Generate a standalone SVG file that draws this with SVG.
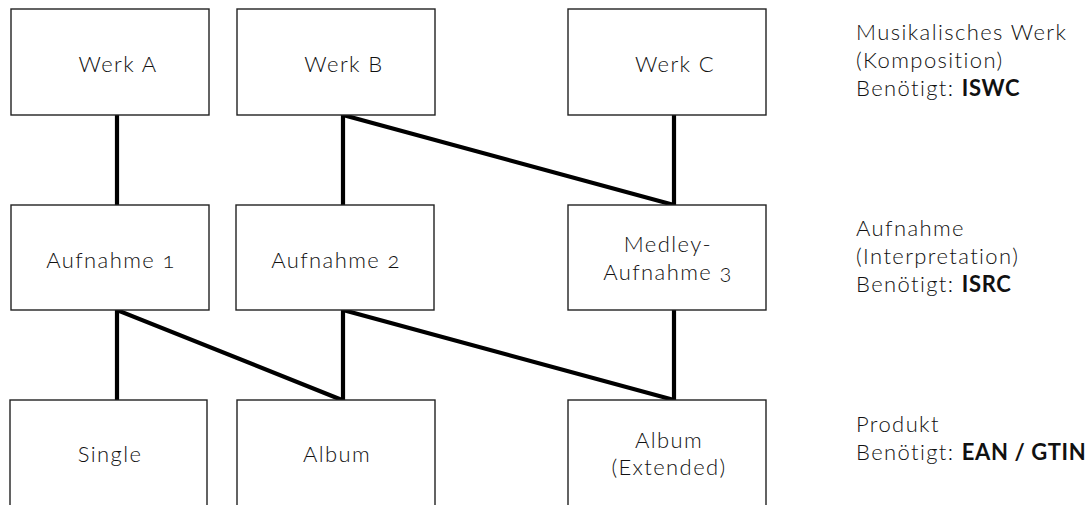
<svg xmlns="http://www.w3.org/2000/svg" width="1092" height="505" viewBox="0 0 1092 505">
<style>
.box{fill:#fff;stroke:#222;stroke-width:1.4}
.t{font-family:Lato,"Open Sans","Liberation Sans",sans-serif;font-size:22px;font-weight:300;letter-spacing:1.4px;fill:#111;font-variant-numeric:oldstyle-nums}
.c{text-anchor:middle}
.b{font-weight:700;fill:#111;letter-spacing:0.6px}
.con{fill:none;stroke:#000;stroke-width:4.2;stroke-linejoin:miter;stroke-miterlimit:10}
</style>
<rect width="1092" height="505" fill="#fff"/>
<g id="connectors">
<path class="con" d="M117,115 L117,205"/>
<path class="con" d="M343,205 L343,115 L674,205"/>
<path class="con" d="M674,115 L674,205"/>
<path class="con" d="M117,400 L117,310 L342,400"/>
<path class="con" d="M343,400 L343,310 L674,400"/>
<path class="con" d="M674,310 L674,400"/>
</g>
<g id="werkA"><rect class="box" x="11" y="9" width="198" height="106"/><text class="t c" x="118" y="72">Werk A</text></g>
<g id="werkB"><rect class="box" x="237" y="9" width="198" height="106"/><text class="t c" x="344" y="72">Werk B</text></g>
<g id="werkC"><rect class="box" x="568" y="9" width="198" height="106"/><text class="t c" x="675" y="72">Werk C</text></g>
<g id="aufnahme1"><rect class="box" x="11" y="205" width="198" height="105"/><text class="t c" x="111" y="268">Aufnahme 1</text></g>
<g id="aufnahme2"><rect class="box" x="236" y="205" width="198" height="105"/><text class="t c" x="336" y="268">Aufnahme 2</text></g>
<g id="aufnahme3"><rect class="box" x="568" y="205" width="198" height="105"/><text class="t c" x="668" y="252">Medley-</text><text class="t c" x="668" y="280">Aufnahme 3</text></g>
<g id="single"><rect class="box" x="10" y="400" width="197" height="108"/><text class="t c" x="110" y="462">Single</text></g>
<g id="album"><rect class="box" x="237" y="400" width="198" height="108"/><text class="t c" x="337" y="462">Album</text></g>
<g id="albumExt"><rect class="box" x="568" y="400" width="198" height="108"/><text class="t c" x="669" y="448">Album</text><text class="t c" x="669" y="475">(Extended)</text></g>
<g id="label-werk"><text class="t" x="856" y="40">Musikalisches Werk</text><text class="t" x="856" y="68">(Komposition)</text><text class="t" x="856" y="96">Benötigt: <tspan class="b">ISWC</tspan></text></g>
<g id="label-aufnahme"><text class="t" x="856" y="236">Aufnahme</text><text class="t" x="856" y="264">(Interpretation)</text><text class="t" x="856" y="292">Benötigt: <tspan class="b">ISRC</tspan></text></g>
<g id="label-produkt"><text class="t" x="856" y="432">Produkt</text><text class="t" x="856" y="460">Benötigt: <tspan class="b">EAN / GTIN</tspan></text></g>
</svg>
